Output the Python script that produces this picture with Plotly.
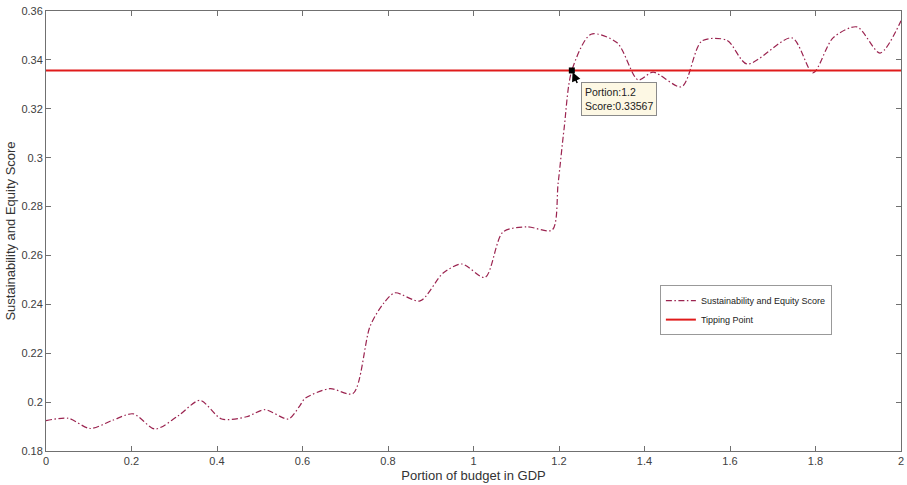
import plotly.graph_objects as go

# Data
portion = [0.0, 0.052, 0.103, 0.155, 0.204, 0.255, 0.31, 0.36, 0.411, 0.469, 0.512, 0.567, 0.594,
           0.606, 0.664, 0.718, 0.758, 0.79, 0.816, 0.875, 0.929, 0.973, 1.027, 1.069, 1.125, 1.184,
           1.198, 1.212, 1.23, 1.275, 1.336, 1.385, 1.42, 1.487, 1.534, 1.593, 1.64, 1.745, 1.794,
           1.841, 1.897, 1.951, 2.0]
score = [0.1924, 0.1934, 0.1892, 0.1925, 0.1952, 0.189, 0.1945, 0.2007, 0.1931, 0.194, 0.1969, 0.1931, 0.1986,
         0.2015, 0.2055, 0.2035, 0.231, 0.2405, 0.2447, 0.2414, 0.2528, 0.2565, 0.251, 0.2696, 0.2717, 0.2704,
         0.2896, 0.312, 0.33567, 0.3505, 0.347, 0.3318, 0.335, 0.329, 0.3477, 0.348, 0.3383, 0.349, 0.3347,
         0.349, 0.3535, 0.3428, 0.356]
tipping_x = [0.0, 2.0]
tipping_y = [0.33567, 0.33567]
tip_point_x = [1.23]
tip_point_y = [0.33567]
x_ticks = [0, 0.2, 0.4, 0.6, 0.8, 1, 1.2, 1.4, 1.6, 1.8, 2]
y_ticks = [0.18, 0.2, 0.22, 0.24, 0.26, 0.28, 0.3, 0.32, 0.34, 0.36]

FONT = "Liberation Sans, Arial, Helvetica, sans-serif"

fig = go.Figure()
fig.add_trace(go.Scatter(x=portion, y=score, mode="lines", name="Sustainability and Equity Score",
                         line=dict(color="#9b2450", width=1.2, dash="6px,2.5px,1.5px,2.5px",
                                   shape="spline", smoothing=0.8)))
fig.add_trace(go.Scatter(x=tipping_x, y=tipping_y, mode="lines", name="Tipping Point",
                         line=dict(color="#e01b1b", width=2)))
fig.add_trace(go.Scatter(x=tip_point_x, y=tip_point_y, mode="markers", showlegend=False,
                         marker=dict(color="black", size=6, symbol="square")))

fig.add_annotation(x=tip_point_x[0], y=tip_point_y[0], ax=6, ay=14, xref="x", yref="y",
                   showarrow=True, arrowhead=2, arrowsize=1.2, arrowwidth=1.5, arrowcolor="black",
                   standoff=2, text="")
fig.add_annotation(x=1.252, y=0.331, xref="x", yref="y", xanchor="left", yanchor="top",
                   text="Portion:1.2<br>Score:0.33567", showarrow=False, align="left",
                   font=dict(family=FONT, size=10.5, color="#222"),
                   bgcolor="#fdf8e4", bordercolor="#8a8a8a", borderwidth=1, borderpad=3)

axis_common = dict(showgrid=False, zeroline=False, showline=True, linecolor="#707070", linewidth=1,
                   mirror="ticks", ticks="inside", ticklen=5, tickcolor="#707070",
                   automargin=False, ticklabeloverflow="allow",
                   tickfont=dict(family=FONT, size=11, color="#404040"))
fig.update_xaxes(range=[0, 2], tickvals=x_ticks, ticktext=[f"{v:g}" for v in x_ticks],
                 title=dict(text="Portion of budget in GDP", standoff=4,
                            font=dict(family=FONT, size=13, color="#333")),
                 **axis_common)
fig.update_yaxes(range=[0.18, 0.36], tickvals=y_ticks, ticktext=[f"{v:g}" for v in y_ticks],
                 title=dict(text="Sustainability and Equity Score", standoff=2,
                            font=dict(family=FONT, size=13, color="#333")),
                 **axis_common)

fig.update_layout(width=907, height=485, margin=dict(l=46, r=6, t=11, b=34),
                  paper_bgcolor="white", plot_bgcolor="white",
                  legend=dict(x=0.718, y=0.377, xanchor="left", yanchor="top",
                              bgcolor="white", bordercolor="#999", borderwidth=1,
                              font=dict(family=FONT, size=9, color="#222"),
                              itemwidth=30, tracegroupgap=2))

fig.write_html("out.html", config={"displayModeBar": False},
               post_script="document.body.style.margin='0';"
                           "document.documentElement.style.overflow='hidden';")
